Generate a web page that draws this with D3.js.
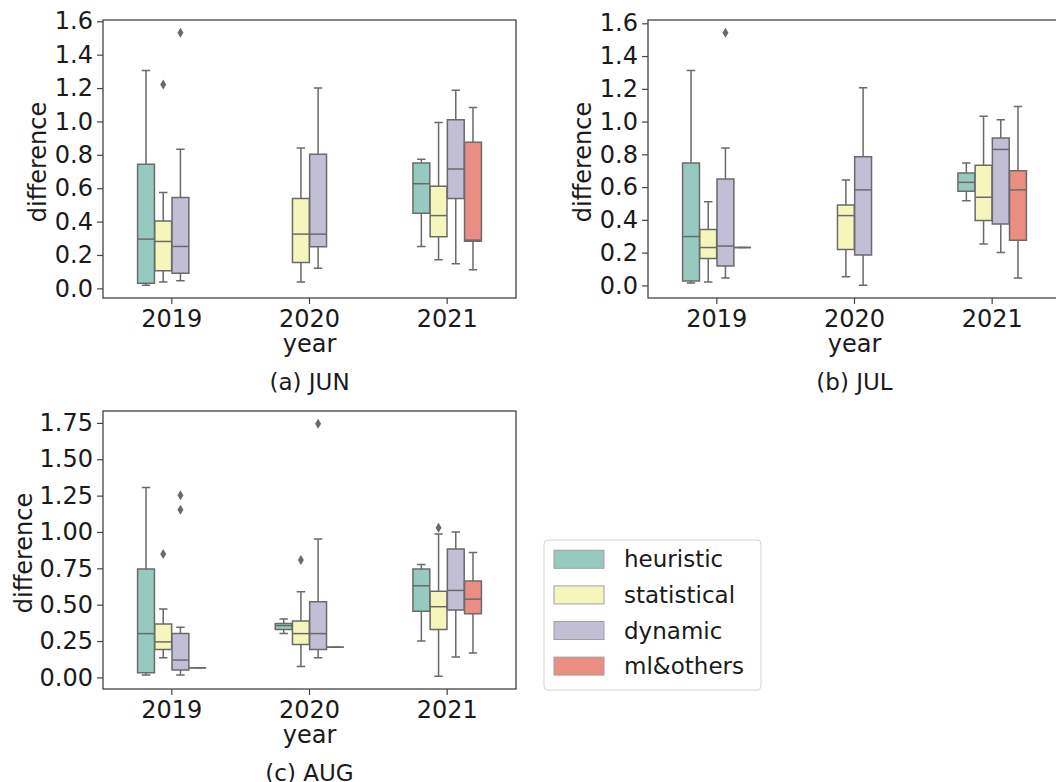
<!DOCTYPE html>
<html>
<head>
<meta charset="utf-8">
<script src="https://cdn.jsdelivr.net/npm/d3@7"></script>
<style>
  body { margin: 0; background: #fff; }
  svg { display: block; }
  text { font-family: "DejaVu Sans", sans-serif; fill: #1a1a1a; }
</style>
</head>
<body>
<script>
const years = ['2019', '2020', '2021'];
const groups = ['heuristic', 'statistical', 'dynamic', 'ml&others'];
const colors = ['#96cac1', '#f6f6bc', '#c1bed6', '#ea8e83'];

// [year, group, whisker low, q1, median, q3, whisker high, outliers]
const jun = [
  ['2019', 'heuristic',   0.018, 0.030, 0.295, 0.743, 1.305, []],
  ['2019', 'statistical', 0.038, 0.106, 0.281, 0.404, 0.574, [1.221]],
  ['2019', 'dynamic',     0.046, 0.090, 0.251, 0.544, 0.833, [1.532]],
  ['2020', 'statistical', 0.038, 0.155, 0.325, 0.538, 0.841, []],
  ['2020', 'dynamic',     0.120, 0.249, 0.325, 0.803, 1.201, []],
  ['2021', 'heuristic',   0.251, 0.450, 0.627, 0.751, 0.773, []],
  ['2021', 'statistical', 0.171, 0.309, 0.436, 0.612, 0.994, []],
  ['2021', 'dynamic',     0.147, 0.538, 0.715, 1.010, 1.187, []],
  ['2021', 'ml&others',   0.112, 0.283, 0.289, 0.876, 1.084, []]
];

const jul = [
  ['2019', 'heuristic',   0.014, 0.026, 0.298, 0.747, 1.312, []],
  ['2019', 'statistical', 0.020, 0.164, 0.231, 0.341, 0.510, []],
  ['2019', 'dynamic',     0.045, 0.118, 0.240, 0.650, 0.839, [1.543]],
  ['2019', 'ml&others',   0.231, 0.231, 0.231, 0.231, 0.231, []],
  ['2020', 'statistical', 0.053, 0.219, 0.426, 0.491, 0.644, []],
  ['2020', 'dynamic',     0.000, 0.185, 0.583, 0.786, 1.206, []],
  ['2021', 'heuristic',   0.516, 0.575, 0.629, 0.686, 0.747, []],
  ['2021', 'statistical', 0.252, 0.396, 0.538, 0.733, 1.033, []],
  ['2021', 'dynamic',     0.201, 0.374, 0.830, 0.900, 1.011, []],
  ['2021', 'ml&others',   0.045, 0.276, 0.583, 0.700, 1.092, []]
];

const aug = [
  ['2019', 'heuristic',   0.016, 0.032, 0.301, 0.746, 1.305, []],
  ['2019', 'statistical', 0.135, 0.192, 0.244, 0.367, 0.470, [0.849]],
  ['2019', 'dynamic',     0.016, 0.050, 0.119, 0.301, 0.345, [1.253, 1.152]],
  ['2019', 'ml&others',   0.066, 0.066, 0.066, 0.066, 0.066, []],
  ['2020', 'heuristic',   0.301, 0.329, 0.356, 0.370, 0.402, []],
  ['2020', 'statistical', 0.075, 0.226, 0.301, 0.388, 0.589, [0.808]],
  ['2020', 'dynamic',     0.135, 0.192, 0.301, 0.520, 0.951, [1.745]],
  ['2020', 'ml&others',   0.208, 0.208, 0.208, 0.208, 0.208, []],
  ['2021', 'heuristic',   0.251, 0.454, 0.630, 0.746, 0.776, []],
  ['2021', 'statistical', 0.007, 0.329, 0.486, 0.593, 0.986, [1.029]],
  ['2021', 'dynamic',     0.141, 0.463, 0.598, 0.883, 0.999, []],
  ['2021', 'ml&others',   0.167, 0.438, 0.538, 0.662, 0.858, []]
];

const ticks16 = [0, 0.2, 0.4, 0.6, 0.8, 1.0, 1.2, 1.4, 1.6];
const ticks175 = [0, 0.25, 0.5, 0.75, 1.0, 1.25, 1.5, 1.75];

const gray = '#6a6a6a';
const fontSize = 24;

const svg = d3.select('body').append('svg').attr('width', 1056).attr('height', 782);

function panel(data, opts) {
  const w = 413, h = 278;
  const g = svg.append('g').attr('transform', `translate(${opts.left},${opts.top})`);

  const lo = d3.min(data, d => d3.min([d[2], ...d[7]]));
  const hi = d3.max(data, d => d3.max([d[6], ...d[7]]));
  const pad = (hi - lo) * 0.05;
  const y = d3.scaleLinear().domain([lo - pad, hi + pad]).range([h, 0]);
  const x = d3.scaleBand().domain(years).range([0, w]);
  const xh = d3.scaleBand().domain(groups).range([-x.bandwidth() * 0.25, x.bandwidth() * 0.25]);
  const bw = xh.bandwidth() * 0.98;

  const boxes = g.selectAll('g.box').data(data).enter().append('g')
    .attr('class', 'box')
    .attr('transform', d => `translate(${x(d[0]) + x.bandwidth() / 2 + xh(d[1]) + xh.bandwidth() / 2},0)`);

  // whiskers
  boxes.append('path')
    .attr('d', d => `M0,${y(d[2])}V${y(d[3])}M0,${y(d[5])}V${y(d[6])}` +
      `M${-bw / 4},${y(d[2])}H${bw / 4}M${-bw / 4},${y(d[6])}H${bw / 4}`)
    .attr('stroke', gray).attr('stroke-width', 1.5).attr('fill', 'none');

  // box
  boxes.append('path')
    .attr('d', d => `M${-bw / 2},${y(d[5])}H${bw / 2}V${y(d[3])}H${-bw / 2}Z`)
    .attr('fill', d => colors[groups.indexOf(d[1])])
    .attr('stroke', gray).attr('stroke-width', 1.5);

  // median
  boxes.append('path')
    .attr('d', d => `M${-bw / 2},${y(d[4])}H${bw / 2}`)
    .attr('stroke', gray).attr('stroke-width', 1.5);

  // outliers
  boxes.selectAll('path.flier').data(d => d[7]).enter().append('path')
    .attr('class', 'flier')
    .attr('d', v => `M0,${y(v) - 5}L3,${y(v)}L0,${y(v) + 5}L-3,${y(v)}Z`)
    .attr('fill', gray);

  g.append('rect').attr('width', w).attr('height', h)
    .attr('fill', 'none').attr('stroke', '#444').attr('stroke-width', 1.3);

  const yAxis = g.append('g')
    .call(d3.axisLeft(y).tickValues(opts.ticks).tickFormat(d3.format(opts.fmt)).tickSize(6).tickPadding(4).tickSizeOuter(0));
  yAxis.select('.domain').remove();
  yAxis.selectAll('line').attr('stroke', '#444').attr('stroke-width', 1.2);
  yAxis.selectAll('text').attr('font-size', fontSize).attr('font-family', 'DejaVu Sans').attr('fill', '#1a1a1a');

  const xAxis = g.append('g').attr('transform', `translate(0,${h})`)
    .call(d3.axisBottom(x).tickSize(6).tickPadding(6).tickSizeOuter(0));
  xAxis.select('.domain').remove();
  xAxis.selectAll('line').attr('stroke', '#444').attr('stroke-width', 1.2);
  xAxis.selectAll('text').attr('font-size', fontSize).attr('font-family', 'DejaVu Sans').attr('fill', '#1a1a1a');

  g.append('text').attr('x', w / 2).attr('y', h + 54).attr('text-anchor', 'middle')
    .attr('font-size', fontSize).text('year');

  g.append('text').attr('transform', `translate(${opts.ylab},${h / 2 + 3}) rotate(-90)`)
    .attr('text-anchor', 'middle').attr('font-size', fontSize).text('difference');

  g.append('text').attr('x', w / 2).attr('y', h + 92).attr('text-anchor', 'middle')
    .attr('font-size', 23).text(opts.title);
}

panel(jun, { left: 103, top: 20, ticks: ticks16, fmt: '.1f', ylab: -57, title: '(a) JUN' });
panel(jul, { left: 648, top: 20, ticks: ticks16, fmt: '.1f', ylab: -57, title: '(b) JUL' });
panel(aug, { left: 103, top: 411, ticks: ticks175, fmt: '.2f', ylab: -71, title: '(c) AUG' });

// legend
const legend = svg.append('g').attr('transform', 'translate(544,540)');
legend.append('rect').attr('width', 217).attr('height', 150).attr('rx', 4)
  .attr('fill', '#fff').attr('stroke', '#d4d4d4').attr('stroke-width', 1);
const items = legend.selectAll('g.item').data(groups).enter().append('g')
  .attr('class', 'item')
  .attr('transform', (d, i) => `translate(10,${19.3 + i * 35.6})`);
items.append('rect').attr('y', -9).attr('width', 50).attr('height', 18)
  .attr('fill', (d, i) => colors[i]).attr('stroke', '#a0a0a0').attr('stroke-width', 1);
items.append('text').attr('x', 70).attr('y', 8).attr('font-size', 23).text(d => d);
</script>
</body>
</html>
